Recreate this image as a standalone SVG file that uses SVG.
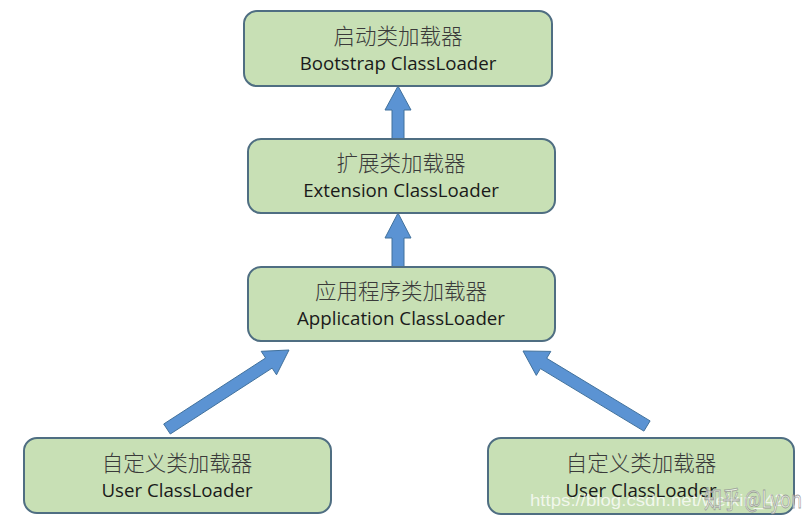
<svg xmlns="http://www.w3.org/2000/svg" width="812" height="523" viewBox="0 0 812 523">
<style>
.box{fill:#c8e0b5;stroke:#4f6e82;stroke-width:2}
.zh{font-family:"Noto Sans CJK SC","Noto Sans",sans-serif;font-size:21.5px;font-weight:300;fill:#3a3a3a;text-anchor:middle}
.en{font-family:"Open Sans","Liberation Sans",sans-serif;font-size:18.7px;fill:#1a1a1a;text-anchor:middle}
.arr{fill:#5b93d3;stroke:#41719c;stroke-width:1}
.wm{font-family:"Liberation Sans",sans-serif;font-size:17px;fill:#ffffff;fill-opacity:0.75}
.wm2{font-family:"Noto Sans CJK SC","Liberation Sans",sans-serif;font-size:24px;fill:#ffffff;fill-opacity:0.65;stroke:#8a8a8a;stroke-width:0.8;stroke-opacity:0.8}
</style>
<rect width="812" height="523" fill="#ffffff"/>
<g id="connectors">
<polygon class="arr" points="392,139 392,110 385,110 398,86 411,110 404,110 404,139"/>
<polygon class="arr" points="392,267 392,238 385,238 398,213 411,238 404,238 404,267"/>
<polygon class="arr" points="170.3,434 163.7,424 265.6,358 261.2,351.3 289,350 276.5,374.8 272.1,368.1"/>
<polygon class="arr" points="650.1,420.9 643.9,431.1 540.4,368.6 536.3,375.4 523,351 550.8,351.4 546.7,358.3"/>
</g>
<g id="bootstrap">
<rect class="box" x="244" y="11" width="308" height="75" rx="13"/>
<text class="zh" x="398" y="44">启动类加载器</text>
<text class="en" x="398" y="70">Bootstrap ClassLoader</text>
</g>
<g id="extension">
<rect class="box" x="248" y="139" width="307" height="74" rx="13"/>
<text class="zh" x="401" y="171">扩展类加载器</text>
<text class="en" x="401" y="197">Extension ClassLoader</text>
</g>
<g id="application">
<rect class="box" x="248" y="267" width="307" height="74" rx="13"/>
<text class="zh" x="401" y="299">应用程序类加载器</text>
<text class="en" x="401" y="325">Application ClassLoader</text>
</g>
<g id="user1">
<rect class="box" x="24" y="438" width="307" height="75" rx="13"/>
<text class="zh" x="177" y="471">自定义类加载器</text>
<text class="en" x="177" y="497">User ClassLoader</text>
</g>
<g id="user2">
<rect class="box" x="488" y="438" width="306" height="76" rx="13"/>
<text class="zh" x="641" y="471">自定义类加载器</text>
<text class="en" x="641" y="497">User ClassLoader</text>
</g>
<g id="watermark">
<text class="wm" x="530" y="506" textLength="255" lengthAdjust="spacingAndGlyphs">https://blog.csdn.net/weixin_42</text>
<text class="wm2" x="704" y="508" textLength="98" lengthAdjust="spacingAndGlyphs">知乎 @Lyon</text>
</g>
</svg>
